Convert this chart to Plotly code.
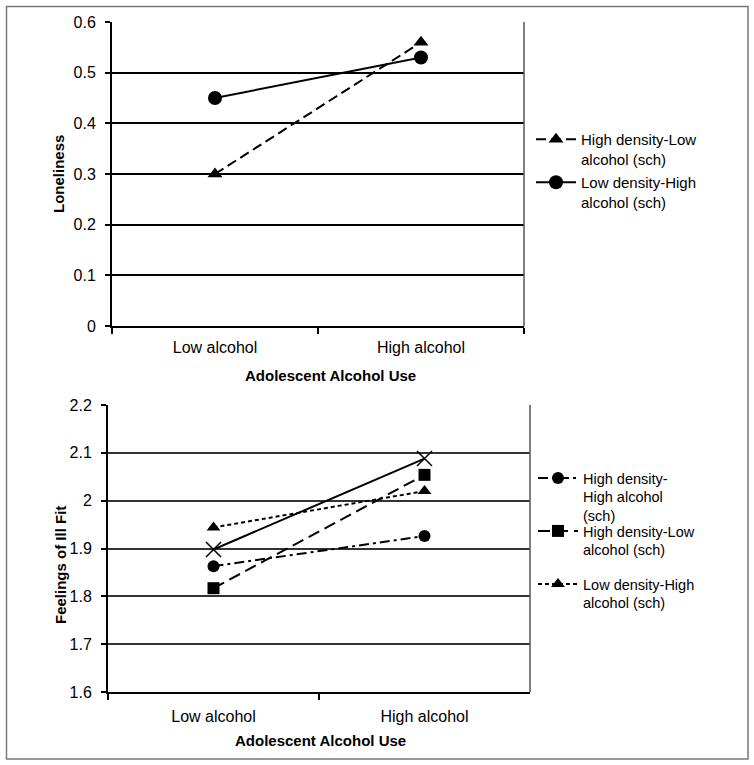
import plotly.graph_objects as go

W, H = 754, 765

categories = ["Low alcohol", "High alcohol"]

# Top panel (Loneliness)
top_hd_la = [0.30, 0.56]   # High density-Low alcohol (sch)
top_ld_ha = [0.45, 0.53]   # Low density-High alcohol (sch)
top_ticks = [0, 0.1, 0.2, 0.3, 0.4, 0.5, 0.6]

# Bottom panel (Feelings of Ill Fit)
bot_hd_ha = [1.863, 1.926]  # High density-High alcohol (sch)
bot_hd_la = [1.817, 2.054]  # High density-Low alcohol (sch)
bot_ld_ha = [1.944, 2.020]  # Low density-High alcohol (sch)
bot_other = [1.898, 2.088]  # unlabelled series (x markers)
bot_ticks = [1.6, 1.7, 1.8, 1.9, 2.0, 2.1, 2.2]

FONT = "Liberation Sans, Arial, sans-serif"

def px_x(p):
    return p / W

def px_y(p):
    return 1 - p / H

fig = go.Figure()

# ---- top traces
fig.add_trace(go.Scatter(
    x=categories, y=top_hd_la, mode="lines+markers",
    name="High density-Low<br>alcohol (sch)",
    line=dict(color="black", width=2, dash="10px,5px"),
    marker=dict(symbol="triangle-up", size=13, color="black"),
    xaxis="x", yaxis="y", legend="legend"))
fig.add_trace(go.Scatter(
    x=categories, y=top_ld_ha, mode="lines+markers",
    name="Low density-High<br>alcohol (sch)",
    line=dict(color="black", width=2),
    marker=dict(symbol="circle", size=14, color="black"),
    xaxis="x", yaxis="y", legend="legend2"))

# ---- bottom traces
fig.add_trace(go.Scatter(
    x=categories, y=bot_other, mode="lines+markers",
    name="", showlegend=False,
    line=dict(color="black", width=2),
    marker=dict(symbol="x-thin-open", size=15, color="black",
                line=dict(color="black", width=1.5)),
    xaxis="x2", yaxis="y2"))
fig.add_trace(go.Scatter(
    x=categories, y=bot_hd_ha, mode="lines+markers",
    name="High density-<br>High alcohol<br>(sch)",
    line=dict(color="black", width=2, dash="10px,4px,3px,4px"),
    marker=dict(symbol="circle", size=12, color="black"),
    xaxis="x2", yaxis="y2", legend="legend3"))
fig.add_trace(go.Scatter(
    x=categories, y=bot_hd_la, mode="lines+markers",
    name="High density-Low<br>alcohol (sch)",
    line=dict(color="black", width=2, dash="12px,6px"),
    marker=dict(symbol="square", size=12, color="black"),
    xaxis="x2", yaxis="y2", legend="legend4"))
fig.add_trace(go.Scatter(
    x=categories, y=bot_ld_ha, mode="lines+markers",
    name="Low density-High<br>alcohol (sch)",
    line=dict(color="black", width=2, dash="4px,3px"),
    marker=dict(symbol="triangle-up", size=12, color="black"),
    xaxis="x2", yaxis="y2", legend="legend5"))

xcommon = dict(type="category", categoryorder="array", categoryarray=categories,
               range=[-0.5, 1.5], tickson="boundaries", ticks="outside", ticklen=6,
               tickwidth=1.5, tickcolor="black", showline=True, linecolor="black",
               linewidth=2, showgrid=False, zeroline=False, automargin=False,
               tickfont=dict(family=FONT, size=16, color="black"))
ycommon = dict(ticks="outside", ticklen=5, tickwidth=1.5, tickcolor="black",
               showline=True, linecolor="black", linewidth=2, zeroline=False,
               automargin=False, ticklabelstandoff=6,
               tickfont=dict(family=FONT, size=16, color="black"))

leg_top = dict(font=dict(family=FONT, size=15, color="black"), bgcolor="rgba(0,0,0,0)",
               borderwidth=0, xanchor="left", yanchor="top", valign="top",
               itemwidth=40, tracegroupgap=0)
leg_bot = dict(leg_top, font=dict(family=FONT, size=14.5, color="black"))

fig.update_layout(
    width=W, height=H, margin=dict(l=0, r=0, t=0, b=0, autoexpand=False),
    paper_bgcolor="white", plot_bgcolor="white",
    font=dict(family=FONT, color="black"),
    xaxis=dict(xcommon, domain=[px_x(112), px_x(524)], anchor="y",
               ticklabelstandoff=6),
    yaxis=dict(ycommon, domain=[px_y(326), px_y(22)], anchor="x",
               range=[0, 0.6], tickvals=top_ticks,
               ticktext=[("%g" % v) for v in top_ticks],
               showgrid=True, gridcolor="black", gridwidth=2),
    xaxis2=dict(xcommon, domain=[px_x(108), px_x(530)], anchor="y2",
                ticklabelstandoff=9),
    yaxis2=dict(ycommon, domain=[px_y(692), px_y(405)], anchor="x2",
                range=[1.6, 2.2], tickvals=bot_ticks,
                ticktext=[("%g" % v) for v in bot_ticks],
                showgrid=True, gridcolor="#333333", gridwidth=1.5),
    legend=dict(leg_top, x=px_x(531), y=px_y(123)),
    legend2=dict(leg_top, x=px_x(531), y=px_y(166)),
    legend3=dict(leg_bot, x=px_x(533), y=px_y(462)),
    legend4=dict(leg_bot, x=px_x(533), y=px_y(515)),
    legend5=dict(leg_bot, x=px_x(533), y=px_y(568)),
    showlegend=True,
)

annos = [
    dict(text="<b>Loneliness</b>", x=px_x(59), y=px_y(174), textangle=-90),
    dict(text="<b>Feelings of Ill Fit</b>", x=px_x(60), y=px_y(565), textangle=-90),
    dict(text="<b>Adolescent Alcohol Use</b>", x=px_x(330), y=px_y(375)),
    dict(text="<b>Adolescent Alcohol Use</b>", x=px_x(320), y=px_y(740)),
]
for a in annos:
    fig.add_annotation(xref="paper", yref="paper", showarrow=False,
                       xanchor="center", yanchor="middle",
                       font=dict(family=FONT, size=15, color="black"), **a)

# plot area right borders and outer frame
fig.add_shape(type="line", xref="x domain", yref="y domain", x0=1, x1=1, y0=0, y1=1,
              line=dict(color="#555555", width=1.5))
fig.add_shape(type="line", xref="x2 domain", yref="y2 domain", x0=1, x1=1, y0=0, y1=1,
              line=dict(color="#555555", width=1.5))
fig.add_shape(type="rect", xref="paper", yref="paper",
              x0=px_x(6.5), x1=px_x(748), y0=px_y(759), y1=px_y(6.5),
              line=dict(color="#777777", width=1.5))

fig.write_html("out.html", config={"displayModeBar": False},
               post_script="document.body.style.margin='0px';")
